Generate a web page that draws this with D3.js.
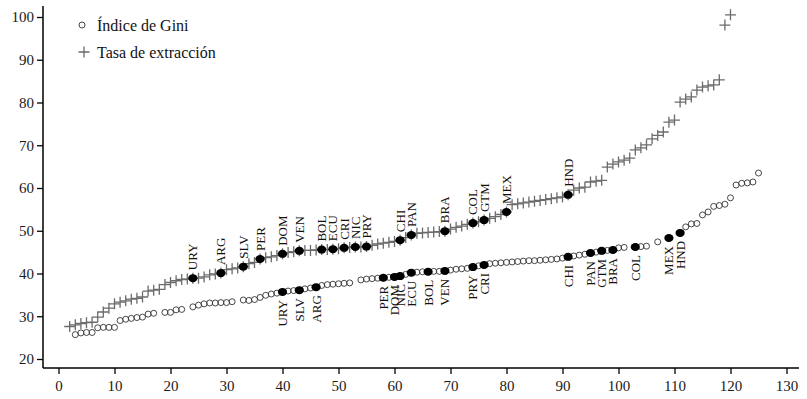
<!DOCTYPE html>
<html>
<head>
<meta charset="utf-8">
<script src="https://cdn.jsdelivr.net/npm/d3@7"></script>
<style>
  body { margin: 0; background: #fff; }
  text { font-family: "Liberation Serif", "DejaVu Serif", serif; }
</style>
</head>
<body>
<div id="chart"></div>
<script>
// Gini index by rank (first value is rank 3), null = no point at that rank
const giniStart = 3;
const giniValues = [
  25.7, 26.1, 26.2, 26.2, 27.3, 27.4, 27.4, 27.4, 29.0, 29.3,
  29.5, 29.7, 29.8, 30.5, 30.7, null, 30.9, 30.9, 31.5, 31.6,
  null, 32.2, 32.6, 32.9, 33.1, 33.1, 33.2, 33.2, 33.4, null,
  33.8, 33.7, 33.9, 34.4, 34.9, 35.2, 35.4, 35.7, 35.9, 36.0,
  36.1, 36.4, 36.6, 36.8, 37.2, 37.4, 37.5, 37.6, 37.7, 37.8,
  null, 38.5, 38.7, 38.8, 38.9, 39.0, 39.1, 39.2, 39.4, 39.8,
  40.2, 40.3, 40.4, 40.4, 40.5, 40.5, 40.6, 40.8, 41.0, 41.1,
  41.2, 41.5, 41.8, 42.0, 42.3, 42.4, 42.5, 42.6, 42.7, 42.8,
  42.9, 43.0, 43.0, 43.1, 43.2, 43.3, 43.4, 43.6, 43.9, 44.1,
  44.3, 44.5, 44.8, 45.0, 45.3, 45.4, 45.5, 46.0, 46.1, null,
  46.2, 46.3, 46.4, null, 47.4, null, 48.3, null, 49.5, 50.9,
  51.6, 51.7, 53.7, 54.4, 55.7, 55.9, 56.2, 57.7, 60.7, 61.1,
  61.2, 61.4, 63.5
];

// Extraction rate by rank (first value is rank 2)
const extrStart = 2;
const extrValues = [
  27.6, 28.0, 28.3, 28.5, 28.6, 29.8, 31.0, 31.9, 32.9, 33.3,
  33.6, 34.0, 34.2, 34.5, 35.9, 36.1, 36.3, 37.4, 37.9, 38.3,
  38.6, 38.7, 38.9, 38.9, 39.2, 39.7, 39.9, 40.1, 40.9, 41.1,
  41.3, 41.6, 42.3, 42.6, 43.4, 43.7, 43.9, 44.2, 44.6, 44.9,
  45.1, 45.3, 45.4, 45.4, 45.5, 45.6, 45.6, 45.7, 45.8, 46.0,
  46.1, 46.2, 46.2, 46.3, 46.6, 46.9, 47.1, 47.3, 47.5, 47.8,
  48.4, 49.0, 49.4, 49.5, 49.6, 49.7, 49.8, 49.9, 50.4, 50.8,
  51.1, 51.5, 51.8, 52.1, 52.5, 52.9, 53.3, 53.8, 54.4, 56.1,
  56.3, 56.5, 56.7, 56.9, 57.1, 57.3, 57.5, 57.7, 57.9, 58.4,
  59.5, 60.0, 60.2, 61.4, 61.6, 61.8, 64.9, 65.6, 66.1, 66.5,
  67.0, 68.9, 69.4, 70.1, 71.5, 72.3, 73.1, 75.4, 75.9, 80.1,
  80.8, 81.3, 82.9, 83.6, 83.9, 84.1, 85.3, 98.1, 100.5
];

// Latin American countries highlighted on each series (code, rank)
const giniCodes = ["URY", "SLV", "ARG", "PER", "DOM", "NIC", "ECU", "BOL", "VEN",
                   "PRY", "CRI", "CHI", "PAN", "GTM", "BRA", "COL", "MEX", "HND"];
const giniRanks = [40, 43, 46, 58, 60, 61, 63, 66, 69, 74, 76, 91, 95, 97, 99, 103, 109, 111];

const extrCodes = ["URY", "ARG", "SLV", "PER", "DOM", "VEN", "BOL", "ECU", "CRI", "NIC",
                   "PRY", "CHI", "PAN", "BRA", "COL", "GTM", "MEX", "HND"];
const extrRanks = [24, 29, 33, 36, 40, 43, 47, 49, 51, 53, 55, 61, 63, 69, 74, 76, 80, 91];

const xTicks = d3.range(0, 131, 10);
const yTicks = d3.range(20, 101, 10);
const legendLabels = ["Índice de Gini", "Tasa de extracción"];

const width = 807, height = 399;

const svg = d3.select("#chart").append("svg")
    .attr("width", width)
    .attr("height", height);

const x = d3.scaleLinear().domain([0, 130]).range([58.5, 786.5]);
const y = d3.scaleLinear().domain([20, 100]).range([359, 17]);

const plotLeft = 43, plotBottom = 368;

function toPoints(start, values) {
    return values.map((v, i) => ({rank: start + i, value: v})).filter(d => d.value !== null);
}
const gini = toPoints(giniStart, giniValues);
const extr = toPoints(extrStart, extrValues);

function lookup(start, values, rank) { return values[rank - start]; }

// axes
const yAxis = svg.append("g")
    .attr("transform", `translate(${plotLeft},0)`)
    .call(d3.axisLeft(y).tickValues(yTicks).tickSize(6).tickPadding(3));
yAxis.select(".domain").remove();

const xAxis = svg.append("g")
    .attr("transform", `translate(0,${plotBottom})`)
    .call(d3.axisBottom(x).tickValues(xTicks).tickSize(6).tickPadding(6));
xAxis.select(".domain").remove();

[yAxis, xAxis].forEach(a => {
    a.selectAll("text").style("font-size", "15px").attr("fill", "#1a1a1a")
        .style("font-family", '"Liberation Serif", serif');
    a.selectAll("line").attr("stroke", "#000").attr("stroke-width", 1.3);
});

svg.append("line")
    .attr("x1", plotLeft).attr("x2", plotLeft)
    .attr("y1", 6).attr("y2", plotBottom)
    .attr("stroke", "#000").attr("stroke-width", 1.5);
svg.append("line")
    .attr("x1", plotLeft).attr("x2", 799)
    .attr("y1", plotBottom).attr("y2", plotBottom)
    .attr("stroke", "#000").attr("stroke-width", 1.5);

// hollow circles: Gini
svg.append("g").selectAll("circle")
    .data(gini)
    .enter().append("circle")
    .attr("cx", d => x(d.rank))
    .attr("cy", d => y(d.value))
    .attr("r", 3)
    .attr("fill", "none")
    .attr("stroke", "#333")
    .attr("stroke-width", 0.9);

// plus markers: extraction rate
const plusSize = 5.5;
svg.append("g").selectAll("path")
    .data(extr)
    .enter().append("path")
    .attr("d", d => {
        const cx = x(d.rank), cy = y(d.value);
        return `M${cx - plusSize},${cy}H${cx + plusSize}M${cx},${cy - plusSize}V${cy + plusSize}`;
    })
    .attr("stroke", "#6b6b6b")
    .attr("stroke-width", 1.3)
    .attr("fill", "none");

// highlighted countries
const giniHi = giniCodes.map((c, i) => ({code: c, rank: giniRanks[i], value: lookup(giniStart, giniValues, giniRanks[i])}));
const extrHi = extrCodes.map((c, i) => ({code: c, rank: extrRanks[i], value: lookup(extrStart, extrValues, extrRanks[i])}));

[giniHi, extrHi].forEach(set => {
    svg.append("g").selectAll("ellipse")
        .data(set)
        .enter().append("ellipse")
        .attr("cx", d => x(d.rank))
        .attr("cy", d => y(d.value))
        .attr("rx", 4.6)
        .attr("ry", 4)
        .attr("fill", "#000");
});

// labels above extraction points
svg.append("g").selectAll("text")
    .data(extrHi)
    .enter().append("text")
    .attr("transform", d => `translate(${x(d.rank)},${y(d.value) - 8}) rotate(-90)`)
    .attr("dy", "0.35em")
    .attr("text-anchor", "start")
    .style("font-size", "13px")
    .attr("fill", "#111")
    .text(d => d.code);

// labels below Gini points
svg.append("g").selectAll("text")
    .data(giniHi)
    .enter().append("text")
    .attr("transform", d => `translate(${x(d.rank)},${y(d.value) + 8}) rotate(-90)`)
    .attr("dy", "0.35em")
    .attr("text-anchor", "end")
    .style("font-size", "13px")
    .attr("fill", "#111")
    .text(d => d.code);

// legend
const legend = svg.append("g").attr("transform", "translate(82,25)");
legend.append("circle")
    .attr("cx", 0).attr("cy", 0).attr("r", 3)
    .attr("fill", "none").attr("stroke", "#333").attr("stroke-width", 0.9);
legend.append("path")
    .attr("d", `M${-plusSize + 2},27H${plusSize + 2}M2,${27 - plusSize}V${27 + plusSize}`)
    .attr("stroke", "#6b6b6b").attr("stroke-width", 1.3);
legend.selectAll("text.lg")
    .data(legendLabels)
    .enter().append("text")
    .attr("class", "lg")
    .attr("x", 15)
    .attr("y", (d, i) => 6 + i * 27)
    .style("font-size", "16px")
    .attr("fill", "#111")
    .text(d => d);
</script>
</body>
</html>
